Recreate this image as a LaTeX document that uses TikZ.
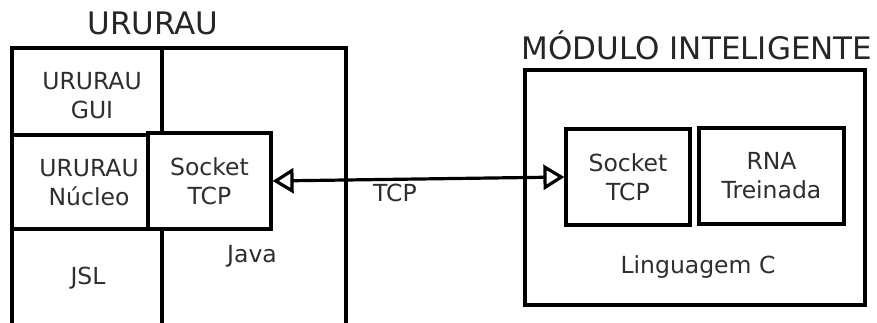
\documentclass[tikz,border=0pt]{standalone}
\usepackage{fontspec}
\setmainfont{DejaVu Sans}
\usepackage{tikz}
\usetikzlibrary{arrows.meta, positioning}

\begin{document}
\begin{tikzpicture}[x=1pt, y=-1pt,
  wall/.style={line width=3.2pt, line cap=rect},
  blk/.style={draw, line width=3.2pt, align=center, inner sep=0pt, text=black!82, font=\fontsize{23.5}{29}\selectfont},
  lbl/.style={align=center, inner sep=0pt, text=black!82, font=\fontsize{23.5}{29}\selectfont},
  ttl/.style={inner sep=0pt, text=black!85, font=\fontsize{31}{36}\selectfont},
  link/.style={line width=3.2pt, >={Triangle[open, length=21pt, width=25pt, line width=3.2pt]}, <->}]
\useasboundingbox (0,0) rectangle (877,323);
\clip (0,0) rectangle (877,323);
\fill[white] (0,0) rectangle (877,323);
\node[ttl] (urtitle) at (153,23) {URURAU};
\draw[wall] (12,340) -- (12,48) -- (346,48) -- (346,340);
\draw[wall] (162,48) -- (162,133);
\draw[wall] (162,229) -- (162,340);
\draw[wall] (12,135) -- (148,135);
\draw[wall] (12,229) -- (148,229);
\node[lbl] (gui) at (92,96) {URURAU\\GUI};
\node[lbl] (nucleo) at (89,183) {URURAU\\Núcleo};
\node[lbl] (jsl) at (88,278) {JSL};
\node[lbl] (java) at (252,256) {Java};
\node[blk, minimum width=123pt, minimum height=96pt] (sockL) at (209.5,181) {Socket\\TCP};
\node[ttl] (mititle) at (697,45) {MÓDULO INTELIGENTE};
\draw[wall] (525,70) rectangle (865,305);
\node[blk, minimum width=124pt, minimum height=96pt] (sockR) at (628,177) {Socket\\TCP};
\node[blk, minimum width=145pt, minimum height=96pt] (rna) at (771.5,176) {RNA\\Treinada};
\node[lbl] (lingc) at (698,267) {Linguagem C};
\draw[link] (sockL.east) -- (sockR.west);
\node[lbl] (tcp) at (395,193) {TCP};
\end{tikzpicture}
\end{document}
